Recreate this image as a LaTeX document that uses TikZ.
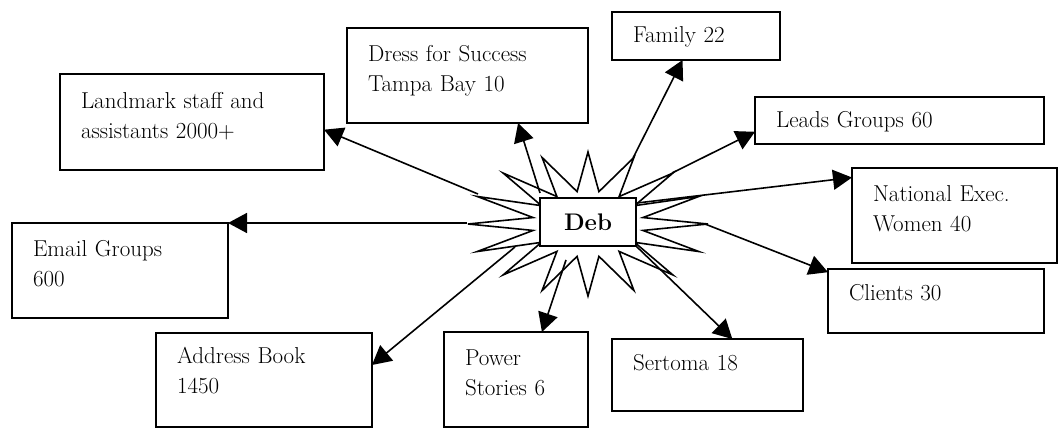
\documentclass[tikz,border=0pt]{standalone}
\usepackage{tikz}
\usetikzlibrary{arrows.meta,calc}

\begin{document}
\begin{tikzpicture}[x=1pt,y=-1pt,
  box/.style={draw, line width=1.6pt, fill=white, anchor=north west, inner xsep=21pt, inner ysep=0pt, outer sep=0pt, align=left, font=\fontsize{23}{30}\selectfont},
  link/.style={line width=1.6pt, -{Triangle[length=19pt,width=20pt]}}]
\useasboundingbox (0,0) rectangle (1058,428);
\draw[line width=1.6pt, fill=white] plot[samples at={0,...,31}] ({588+(mod(\x,2)==0?120:56)*cos(90+11.25*\x)}, {224-(mod(\x,2)==0?72:33)*sin(90+11.25*\x)}) -- cycle; % burst
\node[draw, line width=1.6pt, fill=white, minimum width=96pt, minimum height=48pt, inner sep=0pt, outer sep=0pt, font=\fontsize{24}{28}\selectfont\bfseries] (deb) at (588,222) {Deb}; % deb
\node[box, text width=222pt, text height=34pt, text depth=62pt] (landmark) at (60,74) {Landmark staff and\\assistants 2000+}; % landmark
\node[box, text width=199pt, text height=34pt, text depth=61pt] (dress) at (347,28) {Dress for Success\\Tampa Bay 10}; % dress
\node[box, text width=126pt, text height=31pt, text depth=17pt] (family) at (612,12) {Family 22}; % family
\node[box, text width=247pt, text height=31pt, text depth=16pt] (leads) at (755,97) {Leads Groups 60}; % leads
\node[box, text width=163pt, text height=33pt, text depth=62pt] (national) at (852,168) {National Exec.\\Women 40}; % national
\node[box, text width=174pt, text height=31pt, text depth=33pt] (clients) at (828,269) {Clients 30}; % clients
\node[box, text width=149pt, text height=31pt, text depth=41pt] (sertoma) at (612,339) {Sertoma 18}; % sertoma
\node[box, text width=102pt, text height=33pt, text depth=62pt] (power) at (444,332) {Power\\Stories 6}; % power
\node[box, text width=174pt, text height=30pt, text depth=64pt] (address) at (156,333) {Address Book\\1450}; % address
\node[box, text width=174pt, text height=33pt, text depth=62pt] (email) at (12,223) {Email Groups\\600}; % email
\coordinate (s1) at (478,194); % to landmark
\coordinate (s2) at (540,193); % to dress
\coordinate (s3) at (633,158); % to family
\coordinate (s4) at (672,173); % to leads
\coordinate (s5) at (637,203); % to national
\coordinate (s6) at (705,224); % to clients
\coordinate (s7) at (636,246); % to sertoma
\coordinate (s8) at (566,260); % to power
\coordinate (s9) at (515,247); % to address
\coordinate (s10) at (467,223); % to email
\draw[link] (s1) -- ($(landmark.north east)!0.58!(landmark.south east)$); % landmark
\draw[link] (s2) -- ($(dress.south west)!0.71!(dress.south east)$); % dress
\draw[link] (s3) -- ($(family.south west)!0.42!(family.south east)$); % family
\draw[link] (s4) -- ($(leads.north west)!0.74!(leads.south west)$); % leads
\draw[link] (s5) -- ($(national.north west)!0.1!(national.south west)$); % national
\draw[link] (s6) -- ($(clients.north west)!0.05!(clients.south west)$); % clients
\draw[link] (s7) -- ($(sertoma.north west)!0.63!(sertoma.north east)$); % sertoma
\draw[link] (s8) -- ($(power.north west)!0.68!(power.north east)$); % power
\draw[link] (s9) -- ($(address.north east)!0.34!(address.south east)$); % address
\draw[link] (s10) -- (email.north east); % email
\end{tikzpicture}
\end{document}
